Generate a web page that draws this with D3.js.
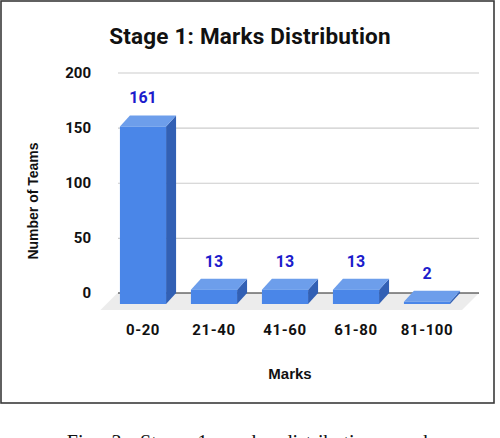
<!DOCTYPE html>
<html>
<head>
<meta charset="utf-8">
<script src="https://cdn.jsdelivr.net/npm/d3@7"></script>
<style>
  body { margin: 0; background: #fff; }
  svg { display: block; }
</style>
</head>
<body>
<div id="chart"></div>
<script>
// data
const categories = ['0-20', '21-40', '41-60', '61-80', '81-100'];
const teams = [161, 13, 13, 13, 2];
const yTicks = [0, 50, 100, 150, 200];

// measures
const width = 500;
const height = 438;
const depthX = 10;
const depthY = 11;

// colors
const frontColor = '#4a86e8';
const sideColor = '#3260b4';
const topColor = '#6d9eeb';
const gridColor = '#cccccc';
const floorColor = '#ececec';
const labelColor = '#1c1ccc';

const svg = d3.select('#chart').append('svg')
    .attr('width', width)
    .attr('height', height);

const x = d3.scaleBand()
    .domain(categories)
    .range([117.5, 472.5])
    .paddingInner(0.35)
    .paddingOuter(0.175);

const y = d3.scaleLinear()
    .domain([0, 200])
    .range([293, 72.5]);

// frame
svg.append('rect')
    .attr('x', 1).attr('y', 1)
    .attr('width', 493).attr('height', 402)
    .attr('fill', 'none')
    .attr('stroke', '#3a3a3a')
    .attr('stroke-width', 1.6);

// title
svg.append('text')
    .text('Stage 1: Marks Distribution')
    .attr('x', 250).attr('y', 44)
    .attr('text-anchor', 'middle')
    .attr('font-family', 'Roboto')
    .attr('font-weight', 'bold')
    .attr('font-size', 22.5)
    .attr('letter-spacing', 0.2)
    .attr('fill', '#111');

// y axis with gridlines
const yAxis = svg.append('g')
    .attr('transform', 'translate(118,0)')
    .call(d3.axisLeft(y).tickValues(yTicks).tickSizeInner(-361).tickSizeOuter(0).tickPadding(27));
yAxis.select('.domain').remove();
yAxis.selectAll('.tick line').attr('stroke', gridColor).attr('stroke-width', 1.2);
yAxis.selectAll('.tick text')
    .attr('font-family', 'Roboto')
    .attr('font-weight', 'bold')
    .attr('font-size', 15)
    .attr('fill', '#111');

// y axis title
svg.append('text')
    .text('Number of Teams')
    .attr('transform', 'translate(38,201) rotate(-90)')
    .attr('text-anchor', 'middle')
    .attr('font-family', 'Liberation Sans')
    .attr('font-weight', 'bold')
    .attr('font-size', 14)
    .attr('fill', '#111');

// floor
const floorLeft = x.range()[0];
const floorRight = 479;
svg.append('polygon')
    .attr('points', [
        [floorLeft, y(0)],
        [floorRight, y(0)],
        [floorRight - 17, y(0) + 17],
        [floorLeft - 17, y(0) + 17]
    ].map(p => p.join(',')).join(' '))
    .attr('fill', floorColor);

// baseline
svg.append('line')
    .attr('x1', 118).attr('x2', 479)
    .attr('y1', y(0)).attr('y2', y(0))
    .attr('stroke', '#222')
    .attr('stroke-width', 1.2);

// 3d bars
const bars = svg.selectAll('.bar')
    .data(categories.map((c, i) => ({cat: c, value: teams[i]})))
    .enter().append('g')
    .attr('class', 'bar');

bars.each(function (d) {
    const g = d3.select(this);
    const bx = x(d.cat);
    const bw = x.bandwidth();
    const top = y(d.value);
    const base = y(0);
    const fx = bx - depthX;
    // side face
    g.append('polygon')
        .attr('points', [
            [fx + bw, top + depthY], [bx + bw, top], [bx + bw, base], [fx + bw, base + depthY]
        ].map(p => p.join(',')).join(' '))
        .attr('fill', sideColor);
    // top face
    g.append('polygon')
        .attr('points', [
            [fx, top + depthY], [bx, top], [bx + bw, top], [fx + bw, top + depthY]
        ].map(p => p.join(',')).join(' '))
        .attr('fill', topColor);
    // front face
    g.append('rect')
        .attr('x', fx)
        .attr('y', top + depthY)
        .attr('width', bw)
        .attr('height', base - top)
        .attr('fill', frontColor);
    // value label
    g.append('text')
        .text(d.value)
        .attr('x', fx + bw / 2)
        .attr('y', top - 12)
        .attr('text-anchor', 'middle')
        .attr('font-family', 'Roboto')
        .attr('font-weight', 'bold')
        .attr('font-size', 16)
        .attr('fill', labelColor);
});

// x tick labels
svg.selectAll('.xlabel')
    .data(categories)
    .enter().append('text')
    .attr('class', 'xlabel')
    .text(d => d)
    .attr('x', d => x(d) - depthX + x.bandwidth() / 2)
    .attr('y', 335)
    .attr('text-anchor', 'middle')
    .attr('font-family', 'Roboto')
    .attr('font-weight', 'bold')
    .attr('font-size', 15)
    .attr('letter-spacing', 0.6)
    .attr('fill', '#111');

// x axis title
svg.append('text')
    .text('Marks')
    .attr('x', 290).attr('y', 379)
    .attr('text-anchor', 'middle')
    .attr('font-family', 'Liberation Sans')
    .attr('font-weight', 'bold')
    .attr('font-size', 15)
    .attr('fill', '#111');

// caption, only its top shows at the bottom edge
svg.append('text')
    .text('Fig. 3:  Stage 1 marks distribution graph')
    .attr('x', 250).attr('y', 449)
    .attr('text-anchor', 'middle')
    .attr('font-family', 'Liberation Serif')
    .attr('font-size', 20)
    .attr('word-spacing', 8)
    .attr('fill', '#111');
</script>
</body>
</html>
